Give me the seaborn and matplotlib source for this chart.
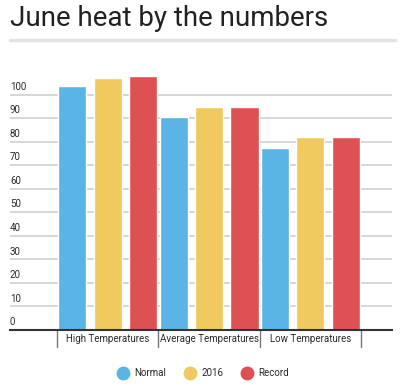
import seaborn as sns
import pandas as pd
from matplotlib import pyplot as plt
from matplotlib.lines import Line2D
import matplotlib.transforms as mtransforms

# values
categories = ["High Temperatures", "Average Temperatures", "Low Temperatures"]
series = ["Normal", "2016", "Record"]
normal = [103.5, 90.5, 77.5]
y2016 = [107, 94.5, 82]
record = [108, 94.5, 82]
yticks = [0, 10, 20, 30, 40, 50, 60, 70, 80, 90, 100]
colors = ["#5AB4E6", "#F0CA5E", "#DF5053"]

rows = []
for i, cat in enumerate(categories):
    rows.append({"cat": cat, "series": "Normal", "temp": normal[i]})
    rows.append({"cat": cat, "series": "2016", "temp": y2016[i]})
    rows.append({"cat": cat, "series": "Record", "temp": record[i]})
df = pd.DataFrame(rows)

sns.set_style("white")
plt.rcParams['font.family'] = ['Roboto', 'DejaVu Sans']

W, H = 400, 387
fig = plt.figure(figsize=(W / 100, H / 100), dpi=100)

# axes placed in pixels: left 10, right 392, top 71, bottom 330
ax = fig.add_axes([10 / W, 1 - 330 / H, 382 / W, 259 / H])
ax.set_axisbelow(True)
for y in yticks:
    ax.axhline(y, color="#cfcfcf", lw=1.2, zorder=0)

sns.barplot(data=df, x="cat", y="temp", hue="series", hue_order=series,
            palette=colors, width=1.05, gap=0.21, saturation=1,
            legend=False, ax=ax, zorder=2)

ax.set_xlim(-0.963, 2.805)
ax.set_ylim(0, 110)
ax.set_xlabel("")
ax.set_ylabel("")
ax.set_yticks([])
ax.set_xticks([])
for s in ["top", "right", "left"]:
    ax.spines[s].set_visible(False)
ax.spines["bottom"].set_color("#333333")
ax.spines["bottom"].set_linewidth(1.5)

# y labels sit above the gridlines at the left edge
trans = mtransforms.blended_transform_factory(ax.transAxes, ax.transData)
for y in yticks:
    ax.text(0.0, y + 1.2, str(y), transform=trans, ha="left", va="bottom",
            fontsize=7, color="#2a2a2a")

# category separators and labels
trans2 = mtransforms.blended_transform_factory(ax.transData, ax.transAxes)
for b in [-0.5, 0.5, 1.5, 2.5]:
    ax.plot([b, b], [0, -0.066], transform=trans2, color="#777777",
            lw=1, clip_on=False)
for i, cat in enumerate(categories):
    ax.text(i, -0.035, cat, transform=trans2, ha="center", va="center",
            fontsize=7, color="#2a2a2a")

# title and rule below it
fig.text(10 / W, 1 - 18 / H, "June heat by the numbers", fontsize=20,
         color="#222222", ha="left", va="center")
fig.add_artist(Line2D([10 / W, 395 / W], [1 - 40 / H, 1 - 40 / H],
                      color="#e3e3e3", lw=2.5, transform=fig.transFigure))

handles = [Line2D([], [], marker="o", ls="", markersize=9,
                  markerfacecolor=c, markeredgecolor=c) for c in colors]
fig.legend(handles, series, loc="center", bbox_to_anchor=(201 / W, 1 - 373 / H),
           ncol=3, frameon=False, handletextpad=0.2, columnspacing=1.4,
           fontsize=7, labelcolor="#2a2a2a")

fig.savefig("out.png", dpi=100)
